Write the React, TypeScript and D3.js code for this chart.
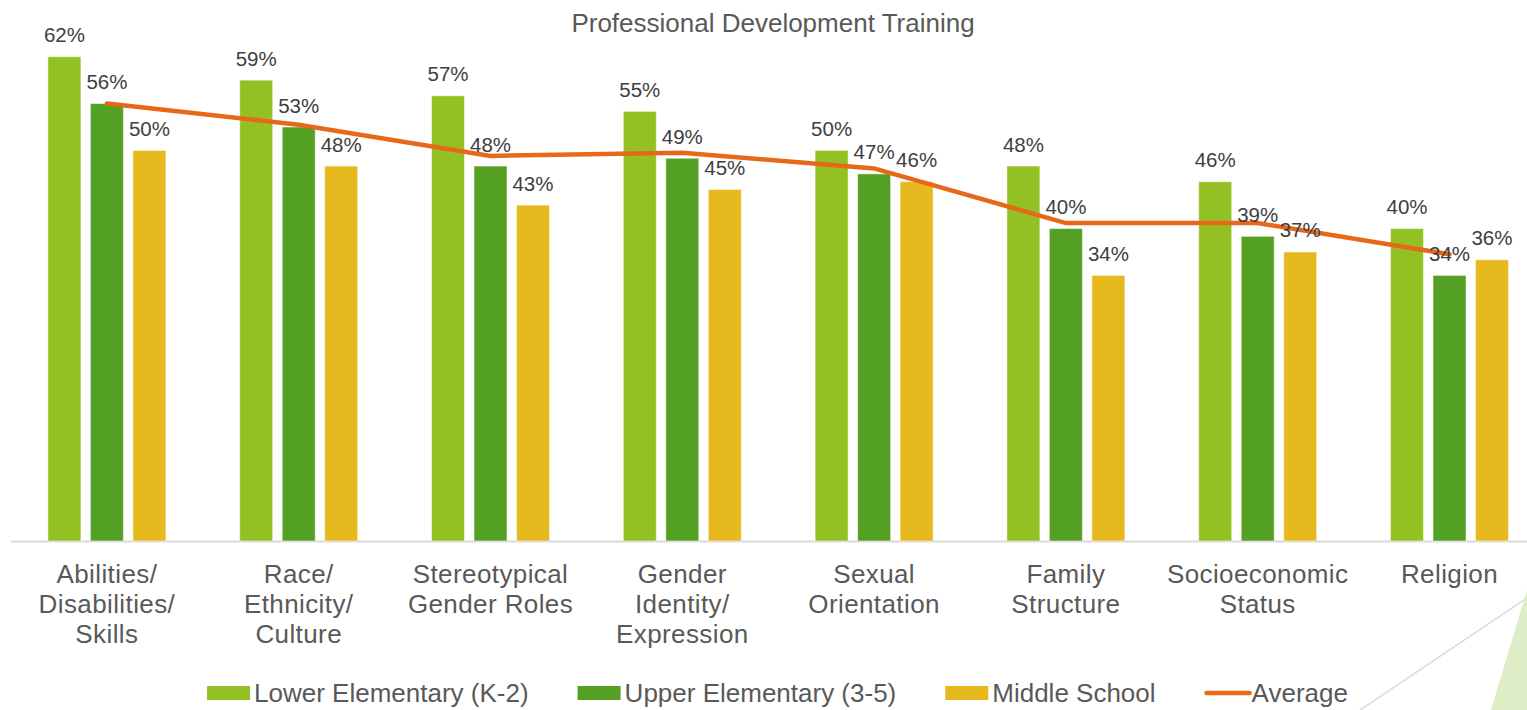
import * as React from "react"
import * as d3 from "d3"

const categories: string[][] = [
    ["Abilities/", "Disabilities/", "Skills"],
    ["Race/", "Ethnicity/", "Culture"],
    ["Stereotypical", "Gender Roles"],
    ["Gender", "Identity/", "Expression"],
    ["Sexual", "Orientation"],
    ["Family", "Structure"],
    ["Socioeconomic", "Status"],
    ["Religion"],
]

const seriesNames = ["Lower Elementary (K-2)", "Upper Elementary (3-5)", "Middle School"]
const lowerElementary = [62, 59, 57, 55, 50, 48, 46, 40]
const upperElementary = [56, 53, 48, 49, 47, 40, 39, 34]
const middleSchool = [50, 48, 43, 45, 46, 34, 37, 36]
const average = [56, 53.3, 49.3, 49.7, 47.7, 40.7, 40.7, 36.7]
const averageName = "Average"

const colors = ["#93c123", "#53a024", "#e6b91f"]
const lineColor = "#e8681a"
const textColor = "#595959"
const font = "'Liberation Sans', Arial, sans-serif"

const W = 1527
const H = 710

const App = () => {
    const ref = React.useRef<SVGSVGElement | null>(null)

    React.useEffect(() => {
        const svg = d3.select(ref.current)
        svg.selectAll("*").remove()

        const keys = categories.map((c) => c.join(" "))
        const values = [lowerElementary, upperElementary, middleSchool]

        // scales
        const x0 = d3.scaleBand<string>().domain(keys).range([11, 11 + 8 * 191.8]).padding(0)
        const x1 = d3.scaleBand<string>().domain(seriesNames).range([-63.75, 63.75])
            .paddingInner(0.2235).paddingOuter(0.1118)
        const y = d3.scaleLinear().domain([0, 62]).range([541, 56.7])
        const cx = (i: number) => (x0(keys[i]) as number) + x0.bandwidth() / 2

        // decoration bottom-right
        svg.append("line")
            .attr("x1", 1360).attr("y1", H).attr("x2", 1527).attr("y2", 598)
            .attr("stroke", "#d9d9d9").attr("stroke-width", 1.5)
        svg.append("polygon")
            .attr("points", "1527,590 1491,710 1527,710")
            .attr("fill", "#deedc6")

        // title
        svg.append("text")
            .attr("x", 773).attr("y", 32)
            .attr("text-anchor", "middle")
            .attr("font-family", font).attr("font-size", 26)
            .attr("fill", textColor)
            .text("Professional Development Training")

        // axis line
        svg.append("line")
            .attr("x1", 11).attr("x2", W).attr("y1", 541.5).attr("y2", 541.5)
            .attr("stroke", "#d9d9d9").attr("stroke-width", 2)

        // bars
        const g = svg.append("g")
        seriesNames.forEach((s, si) => {
            g.selectAll(".bar-" + si)
                .data(values[si])
                .enter()
                .append("rect")
                .attr("x", (d, i) => cx(i) + (x1(s) as number))
                .attr("y", (d) => y(d))
                .attr("width", x1.bandwidth())
                .attr("height", (d) => y(0) - y(d))
                .attr("fill", colors[si])
                .attr("stroke", "#ffffff").attr("stroke-opacity", 0.5).attr("stroke-width", 1)
        })

        // average line
        const line = d3.line<number>()
            .x((d, i) => cx(i))
            .y((d) => y(d))
        svg.append("path")
            .datum(average)
            .attr("d", line)
            .attr("fill", "none")
            .attr("stroke", lineColor)
            .attr("stroke-width", 4.5)
            .attr("stroke-linecap", "round")

        // data labels
        seriesNames.forEach((s, si) => {
            svg.selectAll(".lbl-" + si)
                .data(values[si])
                .enter()
                .append("text")
                .attr("x", (d, i) => cx(i) + (x1(s) as number) + x1.bandwidth() / 2)
                .attr("y", (d) => y(d) - 14.5)
                .attr("text-anchor", "middle")
                .attr("font-family", font).attr("font-size", 20.5)
                .attr("fill", "#404040")
                .text((d) => d + "%")
        })

        // category labels
        categories.forEach((lines, i) => {
            const t = svg.append("text")
                .attr("text-anchor", "middle")
                .attr("font-family", font).attr("font-size", 26)
                .attr("letter-spacing", 0.4)
                .attr("fill", textColor)
            lines.forEach((l, li) => {
                t.append("tspan").attr("x", cx(i)).attr("y", 583 + li * 30).text(l)
            })
        })

        // legend
        const items = seriesNames.map((s, i) => ({ name: s, color: colors[i], kind: "rect" }))
            .concat([{ name: averageName, color: lineColor, kind: "line" }])
        const leg = svg.append("g")
        let pos = 0
        items.forEach((it, i) => {
            const gi = leg.append("g").attr("transform", "translate(" + pos + ",0)")
            if (it.kind === "rect") {
                gi.append("rect").attr("x", 0).attr("y", 686).attr("width", 43).attr("height", 14)
                    .attr("fill", it.color)
            } else {
                gi.append("line").attr("x1", 2).attr("x2", 45).attr("y1", 693).attr("y2", 693)
                    .attr("stroke", it.color).attr("stroke-width", 4.5).attr("stroke-linecap", "round")
            }
            const t = gi.append("text").attr("x", 47).attr("y", 702)
                .attr("font-family", font).attr("font-size", 26)
                .attr("fill", textColor)
                .text(it.name)
            const w = (t.node() as SVGTextElement).getComputedTextLength()
            pos += 47 + w + 49
        })
        const total = pos - 49
        leg.attr("transform", "translate(" + (777.5 - total / 2) + ",0)")
    }, [])

    return (
        <svg ref={ref} width={W} height={H}
            style={{ position: "absolute", left: 0, top: 0, background: "#fff" }} />
    )
}

export default App
